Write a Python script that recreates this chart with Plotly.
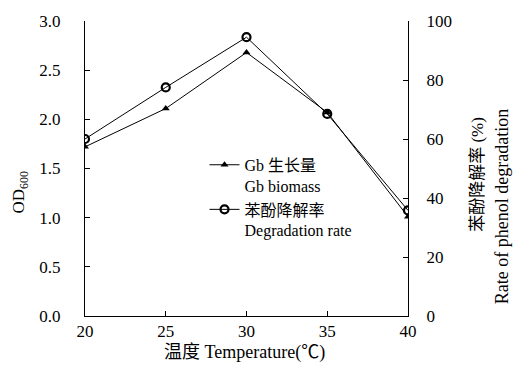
import plotly.graph_objects as go

temps = [20, 25, 30, 35, 40]
biomass_od = [1.72, 2.11, 2.68, 2.07, 1.01]
degradation_pct = [60.0, 77.5, 94.5, 68.5, 35.8]

x_ticks = [20, 25, 30, 35, 40]
y_ticks = [0.0, 0.5, 1.0, 1.5, 2.0, 2.5, 3.0]
y2_ticks = [0, 20, 40, 60, 80, 100]

SERIF = "Liberation Serif, Times New Roman, Noto Sans CJK SC, serif"

fig = go.Figure()
fig.add_trace(go.Scatter(
    x=temps, y=biomass_od, mode="lines+markers",
    name="Gb 生长量<br>Gb biomass",
    line=dict(color="black", width=1),
    marker=dict(symbol="triangle-up", size=7, color="black"),
    yaxis="y",
))
fig.add_trace(go.Scatter(
    x=temps, y=degradation_pct, mode="lines+markers",
    name="苯酚降解率<br>Degradation rate",
    line=dict(color="black", width=1),
    marker=dict(symbol="circle-open", size=8, color="black", line=dict(width=2.2, color="black")),
    yaxis="y2",
))

axis_common = dict(
    showgrid=False, zeroline=False, showline=True, linecolor="black", linewidth=1,
    ticks="inside", ticklen=5, tickcolor="black", tickwidth=1,
    tickfont=dict(family=SERIF, size=17, color="black"),
)

fig.update_layout(
    width=521, height=387,
    margin=dict(l=85, r=113, t=15, b=71),
    paper_bgcolor="white", plot_bgcolor="white",
    font=dict(family=SERIF, size=15, color="black"),
    showlegend=True,
    legend=dict(
        x=0.37, y=0.57, xanchor="left", yanchor="top",
        bgcolor="rgba(0,0,0,0)", font=dict(family=SERIF, size=16),
        valign="top", tracegroupgap=0, itemwidth=30,
    ),
    xaxis=dict(axis_common, range=[20, 40], tickvals=x_ticks,
               ticktext=[str(t) for t in x_ticks]),
    yaxis=dict(axis_common, range=[0, 3], tickvals=y_ticks,
               ticktext=[f"{t:.1f}" for t in y_ticks], ticklabelstandoff=20),
    yaxis2=dict(axis_common, range=[0, 100], tickvals=y2_ticks,
                ticktext=[str(t) for t in y2_ticks], overlaying="y", side="right",
                ticklabelstandoff=14),
    annotations=[
        dict(text="OD<sub>600</sub>", x=20, y=190, showarrow=False, textangle=-90,
             font=dict(family=SERIF, size=17)),
        dict(text="苯酚降解率 (%)", x=478, y=172, showarrow=False, textangle=-90,
             font=dict(family=SERIF, size=17)),
        dict(text="Rate of phenol degradation", x=502, y=205, showarrow=False,
             textangle=-90, font=dict(family=SERIF, size=18)),
        dict(text="温度 Temperature(℃)", x=244, y=353, showarrow=False,
             font=dict(family=SERIF, size=18)),
    ],
)

# convert pixel positions of annotations to paper coords
L, R, T, B = 85, 408, 15, 316
for a in fig.layout.annotations:
    a.xref = "paper"; a.yref = "paper"
    a.x = (a.x - L) / (R - L)
    a.y = (B - a.y) / (B - T)
    a.xanchor = "center"; a.yanchor = "middle"

fig.write_html("out.html")
